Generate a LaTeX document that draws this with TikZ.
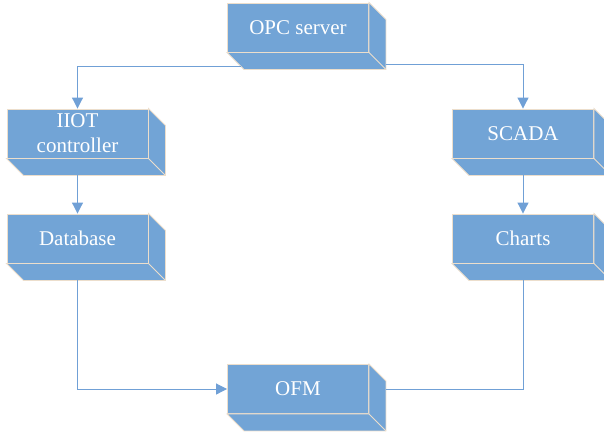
\documentclass[tikz,border=0pt]{standalone}
\usepackage{fontspec}
\setmainfont{Liberation Serif}
\usetikzlibrary{arrows.meta,calc}
\definecolor{boxblue}{RGB}{114,164,214}
\definecolor{rimcol}{RGB}{236,222,204}
\definecolor{wirecol}{RGB}{112,160,214}
\begin{document}
\begin{tikzpicture}[x=1pt,y=-1pt,
  every node/.style = {rectangle, fill=boxblue, draw=rimcol, line width=0.9pt,
    minimum width=141pt, minimum height=49pt, inner sep=0pt, align=center,
    text=white, font=\fontsize{21}{25}\selectfont},
  wire/.style = {draw=wirecol, line width=1pt},
  tip/.style = {-{Triangle[width=11pt,length=11pt]}}]

\useasboundingbox (0,0) rectangle (604,432);

\node (opc) at (298,27.5) {OPC server};
\node (iiot) at (77.5,133.5) {IIOT\\controller};
\node (scada) at (523,133.5) {SCADA};
\node (db) at (77.5,238.5) {Database};
\node (charts) at (523,238.5) {Charts};
\node (ofm) at (298,389) {OFM};

% depth faces
\foreach \n in {opc,iiot,scada,db,charts,ofm}
{
	\filldraw[fill=boxblue, draw=rimcol, line width=0.9pt]
	  (\n.north east) -- ++(17,17) -- ($(\n.south east)+(17,17)$)
	  -- ($(\n.south west)+(17,17)$) -- (\n.south west) -- (\n.south east) -- cycle;
	\draw[rimcol, line width=0.9pt] (\n.south east) -- ++(17,17);
};

\coordinate (opcL) at ($(opc.south west)+(14,14)$);
\coordinate (opcR) at ($(opc.south east)+(17,12)$);

\draw[wire,tip] (opcL) -| (iiot.north);
\draw[wire,tip] (opcR) -| (scada.north);
\draw[wire,tip] ($(iiot.south)+(0,17)$) -- (db.north);
\draw[wire,tip] ($(scada.south)+(0,17)$) -- (charts.north);
\draw[wire,tip] ($(db.south)+(0,17)$) |- (ofm.west);
\draw[wire] ($(charts.south)+(0,17)$) |- ($(ofm.east)+(17,0)$);
\end{tikzpicture}
\end{document}
